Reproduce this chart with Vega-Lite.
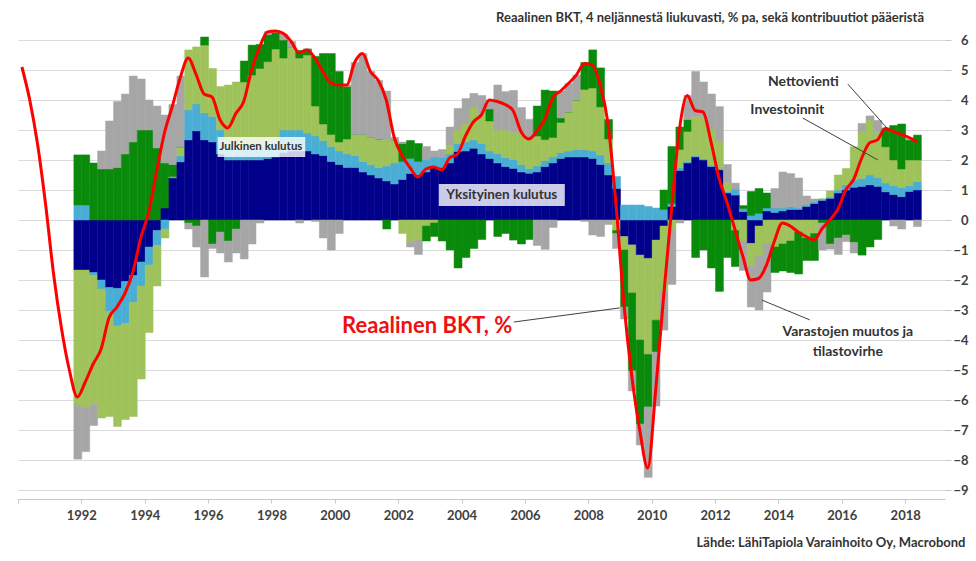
{
"$schema": "https://vega.github.io/schema/vega-lite/v6.json",
"width": 927, "height": 465,
"autosize": {"type": "none"},
"padding": {"left": 18, "top": 34, "right": 31, "bottom": 62},
"background": "white",
"title": {"text": "Reaalinen BKT, 4 neljännestä liukuvasti, % pa, sekä kontribuutiot pääeristä", "anchor": "end", "frame": "group", "dx": -21, "offset": 0, "font": "Lato", "fontSize": 13, "fontWeight": "bold", "color": "#333333"},
"config": {"view": {"stroke": null}, "axis": {"labelFont": "Lato", "labelFontSize": 13, "labelFontWeight": "bold", "labelColor": "#404040", "titleFont": "Lato"}},
"resolve": {"axis": {"x": "independent", "y": "independent"}},
"datasets": {
"series": [{"sarja": "yksit", "jarj": 1}, {"sarja": "julk", "jarj": 2}, {"sarja": "inv", "jarj": 3}, {"sarja": "netto", "jarj": 4}, {"sarja": "varastot", "jarj": 5}],
"gdp": [
{"d":"1990-01-01","bkt":5.1},
{"d":"1990-04-01","bkt":4.0},
{"d":"1990-07-01","bkt":2.5},
{"d":"1990-10-01","bkt":0.5},
{"d":"1991-01-01","bkt":-1.8},
{"d":"1991-04-01","bkt":-3.6},
{"d":"1991-07-01","bkt":-5.0},
{"d":"1991-10-01","yksit":-1.67,"julk":0.5,"inv":-4.5,"netto":1.67,"varastot":-1.8,"bkt":-5.9},
{"d":"1992-01-01","yksit":-1.67,"julk":0.5,"inv":-4.6,"netto":1.67,"varastot":-1.45,"bkt":-5.4},
{"d":"1992-04-01","yksit":-1.75,"julk":-0.1,"inv":-4.3,"netto":1.9,"varastot":-0.7,"bkt":-4.8},
{"d":"1992-07-01","yksit":-2.0,"julk":-0.3,"inv":-4.3,"netto":1.7,"varastot":0.6,"bkt":-4.3},
{"d":"1992-10-01","yksit":-2.25,"julk":-0.8,"inv":-3.5,"netto":1.7,"varastot":1.6,"bkt":-3.25},
{"d":"1993-01-01","yksit":-2.28,"julk":-1.25,"inv":-3.35,"netto":1.75,"varastot":2.2,"bkt":-2.9},
{"d":"1993-04-01","yksit":-2.05,"julk":-1.4,"inv":-3.2,"netto":2.2,"varastot":2.0,"bkt":-2.45},
{"d":"1993-07-01","yksit":-1.85,"julk":-0.9,"inv":-3.8,"netto":2.6,"varastot":2.2,"bkt":-1.75},
{"d":"1993-10-01","yksit":-1.4,"julk":-0.8,"inv":-3.1,"netto":3.0,"varastot":1.7,"bkt":-0.6},
{"d":"1994-01-01","yksit":-0.9,"julk":-0.6,"inv":-2.25,"netto":3.0,"varastot":1.0,"bkt":0.25},
{"d":"1994-04-01","yksit":-0.35,"julk":-0.5,"inv":-1.35,"netto":2.4,"varastot":1.4,"bkt":1.6},
{"d":"1994-07-01","yksit":0.4,"julk":-0.3,"inv":-0.3,"netto":1.5,"varastot":1.6,"bkt":2.9},
{"d":"1994-10-01","yksit":1.4,"julk":0.05,"inv":0.0,"netto":0.4,"varastot":2.0,"bkt":3.8},
{"d":"1995-01-01","yksit":1.94,"julk":0.2,"inv":0.3,"netto":0.0,"varastot":2.36,"bkt":4.75},
{"d":"1995-04-01","yksit":2.67,"julk":1.0,"inv":2.0,"netto":-0.1,"varastot":-0.2,"bkt":5.4},
{"d":"1995-07-01","yksit":2.97,"julk":0.9,"inv":1.9,"netto":-0.2,"varastot":-0.7,"bkt":4.85},
{"d":"1995-10-01","yksit":2.67,"julk":0.9,"inv":2.26,"netto":0.27,"varastot":-1.9,"bkt":4.2},
{"d":"1996-01-01","yksit":2.6,"julk":0.85,"inv":1.6,"netto":-0.8,"varastot":-0.15,"bkt":4.1},
{"d":"1996-04-01","yksit":2.2,"julk":0.8,"inv":1.45,"netto":-0.4,"varastot":-0.7,"bkt":3.35},
{"d":"1996-07-01","yksit":2.0,"julk":0.5,"inv":2.0,"netto":-0.7,"varastot":-0.7,"bkt":3.07},
{"d":"1996-10-01","yksit":2.0,"julk":0.4,"inv":2.2,"netto":-0.3,"varastot":-0.8,"bkt":3.55},
{"d":"1997-01-01","yksit":2.0,"julk":0.35,"inv":2.25,"netto":0.7,"varastot":-1.3,"bkt":3.95},
{"d":"1997-04-01","yksit":2.0,"julk":0.4,"inv":2.43,"netto":1.0,"varastot":-0.8,"bkt":5.0},
{"d":"1997-07-01","yksit":2.0,"julk":0.45,"inv":2.6,"netto":0.8,"varastot":-0.1,"bkt":5.75},
{"d":"1997-10-01","yksit":2.05,"julk":0.45,"inv":2.78,"netto":0.9,"varastot":0.1,"bkt":6.27},
{"d":"1998-01-01","yksit":2.1,"julk":0.5,"inv":3.1,"netto":0.55,"varastot":0.05,"bkt":6.3},
{"d":"1998-04-01","yksit":2.25,"julk":0.75,"inv":2.4,"netto":0.6,"varastot":0.2,"bkt":6.22},
{"d":"1998-07-01","yksit":2.3,"julk":0.7,"inv":2.75,"netto":0.0,"varastot":0.2,"bkt":5.95},
{"d":"1998-10-01","yksit":2.3,"julk":0.7,"inv":2.4,"netto":0.25,"varastot":-0.1,"bkt":5.57},
{"d":"1999-01-01","yksit":2.3,"julk":0.6,"inv":2.6,"netto":0.2,"varastot":0.0,"bkt":5.67},
{"d":"1999-04-01","yksit":2.2,"julk":0.6,"inv":1.0,"netto":1.65,"varastot":-0.05,"bkt":5.4},
{"d":"1999-07-01","yksit":2.15,"julk":0.5,"inv":0.55,"netto":2.35,"varastot":-0.6,"bkt":4.95},
{"d":"1999-10-01","yksit":1.95,"julk":0.5,"inv":0.4,"netto":2.7,"varastot":-1.0,"bkt":4.57},
{"d":"2000-01-01","yksit":1.85,"julk":0.45,"inv":0.3,"netto":2.35,"varastot":-0.45,"bkt":4.5},
{"d":"2000-04-01","yksit":1.75,"julk":0.45,"inv":0.5,"netto":1.75,"varastot":0.05,"bkt":4.5},
{"d":"2000-07-01","yksit":1.75,"julk":0.4,"inv":0.7,"netto":0.0,"varastot":2.4,"bkt":5.25},
{"d":"2000-10-01","yksit":1.6,"julk":0.35,"inv":0.9,"netto":0.0,"varastot":2.7,"bkt":5.55},
{"d":"2001-01-01","yksit":1.5,"julk":0.35,"inv":0.9,"netto":0.0,"varastot":2.2,"bkt":4.95},
{"d":"2001-04-01","yksit":1.4,"julk":0.35,"inv":0.95,"netto":0.0,"varastot":1.95,"bkt":4.65},
{"d":"2001-07-01","yksit":1.3,"julk":0.5,"inv":0.9,"netto":-0.3,"varastot":1.6,"bkt":4.0},
{"d":"2001-10-01","yksit":1.2,"julk":0.7,"inv":0.75,"netto":0.0,"varastot":0.1,"bkt":2.75},
{"d":"2002-01-01","yksit":1.35,"julk":0.6,"inv":-0.45,"netto":0.6,"varastot":0.05,"bkt":2.15},
{"d":"2002-04-01","yksit":1.55,"julk":0.5,"inv":-0.75,"netto":0.6,"varastot":-0.15,"bkt":1.75},
{"d":"2002-07-01","yksit":1.5,"julk":0.45,"inv":-0.65,"netto":0.6,"varastot":-0.5,"bkt":1.43},
{"d":"2002-10-01","yksit":1.6,"julk":0.4,"inv":-0.2,"netto":-0.5,"varastot":0.45,"bkt":1.7},
{"d":"2003-01-01","yksit":1.75,"julk":0.35,"inv":-0.1,"netto":-0.45,"varastot":0.2,"bkt":1.77},
{"d":"2003-04-01","yksit":1.75,"julk":0.35,"inv":0.0,"netto":-0.7,"varastot":0.25,"bkt":1.67},
{"d":"2003-07-01","yksit":1.9,"julk":0.3,"inv":0.3,"netto":-1.0,"varastot":0.6,"bkt":2.07},
{"d":"2003-10-01","yksit":2.28,"julk":0.27,"inv":0.45,"netto":-1.6,"varastot":0.72,"bkt":2.2},
{"d":"2004-01-01","yksit":2.3,"julk":0.3,"inv":0.6,"netto":-1.25,"varastot":0.85,"bkt":2.8},
{"d":"2004-04-01","yksit":2.39,"julk":0.28,"inv":1.1,"netto":-0.95,"varastot":0.45,"bkt":3.27},
{"d":"2004-07-01","yksit":2.2,"julk":0.35,"inv":1.0,"netto":-0.65,"varastot":0.6,"bkt":3.5},
{"d":"2004-10-01","yksit":2.05,"julk":0.25,"inv":1.0,"netto":0.4,"varastot":0.3,"bkt":4.0},
{"d":"2005-01-01","yksit":1.9,"julk":0.3,"inv":0.8,"netto":-0.55,"varastot":1.5,"bkt":3.95},
{"d":"2005-04-01","yksit":1.78,"julk":0.3,"inv":0.92,"netto":-0.45,"varastot":1.28,"bkt":3.85},
{"d":"2005-07-01","yksit":1.72,"julk":0.3,"inv":0.9,"netto":-0.67,"varastot":1.4,"bkt":3.65},
{"d":"2005-10-01","yksit":1.6,"julk":0.25,"inv":1.05,"netto":-0.8,"varastot":0.85,"bkt":2.95},
{"d":"2006-01-01","yksit":1.56,"julk":0.15,"inv":1.0,"netto":-0.65,"varastot":0.65,"bkt":2.7},
{"d":"2006-04-01","yksit":1.6,"julk":0.2,"inv":1.0,"netto":1.0,"varastot":-0.85,"bkt":2.95},
{"d":"2006-07-01","yksit":1.78,"julk":0.2,"inv":0.7,"netto":1.65,"varastot":-0.98,"bkt":3.35},
{"d":"2006-10-01","yksit":1.9,"julk":0.2,"inv":0.65,"netto":1.55,"varastot":-0.25,"bkt":4.07},
{"d":"2007-01-01","yksit":2.05,"julk":0.2,"inv":1.0,"netto":0.15,"varastot":0.9,"bkt":4.3},
{"d":"2007-04-01","yksit":2.1,"julk":0.2,"inv":1.3,"netto":0.0,"varastot":0.95,"bkt":4.55},
{"d":"2007-07-01","yksit":2.1,"julk":0.25,"inv":1.65,"netto":0.0,"varastot":0.83,"bkt":4.83},
{"d":"2007-10-01","yksit":2.1,"julk":0.25,"inv":2.0,"netto":0.9,"varastot":-0.05,"bkt":5.22},
{"d":"2008-01-01","yksit":2.05,"julk":0.25,"inv":2.1,"netto":1.27,"varastot":-0.5,"bkt":5.17},
{"d":"2008-04-01","yksit":1.85,"julk":0.32,"inv":1.6,"netto":1.3,"varastot":-0.55,"bkt":4.5},
{"d":"2008-07-01","yksit":1.5,"julk":0.4,"inv":0.8,"netto":0.65,"varastot":-0.15,"bkt":3.2},
{"d":"2008-10-01","yksit":1.05,"julk":0.4,"inv":-0.35,"netto":-0.1,"varastot":-0.5,"bkt":0.5},
{"d":"2009-01-01","yksit":-0.55,"julk":0.5,"inv":-0.45,"netto":-1.9,"varastot":-0.4,"bkt":-2.8},
{"d":"2009-04-01","yksit":-0.83,"julk":0.5,"inv":-1.6,"netto":-2.6,"varastot":-0.67,"bkt":-5.2},
{"d":"2009-07-01","yksit":-1.17,"julk":0.5,"inv":-2.83,"netto":-2.8,"varastot":-0.7,"bkt":-7.0},
{"d":"2009-10-01","yksit":-1.28,"julk":0.45,"inv":-3.2,"netto":-1.75,"varastot":-2.35,"bkt":-8.27},
{"d":"2010-01-01","yksit":-0.67,"julk":0.4,"inv":-2.67,"netto":-1.06,"varastot":-1.8,"bkt":-5.7},
{"d":"2010-04-01","yksit":-0.2,"julk":0.35,"inv":-2.2,"netto":0.65,"varastot":-1.27,"bkt":-2.6},
{"d":"2010-07-01","yksit":0.45,"julk":0.1,"inv":-0.3,"netto":1.9,"varastot":-1.85,"bkt":0.3},
{"d":"2010-10-01","yksit":1.65,"julk":0.1,"inv":0.6,"netto":0.75,"varastot":-0.1,"bkt":3.0},
{"d":"2011-01-01","yksit":1.9,"julk":0.05,"inv":1.0,"netto":0.4,"varastot":0.8,"bkt":4.15},
{"d":"2011-04-01","yksit":2.1,"julk":0.05,"inv":1.3,"netto":-1.25,"varastot":1.5,"bkt":3.65},
{"d":"2011-07-01","yksit":2.0,"julk":0.05,"inv":1.4,"netto":-1.0,"varastot":1.15,"bkt":3.6},
{"d":"2011-10-01","yksit":1.78,"julk":0.05,"inv":1.2,"netto":-1.6,"varastot":1.17,"bkt":2.6},
{"d":"2012-01-01","yksit":1.67,"julk":0.05,"inv":0.9,"netto":-2.38,"varastot":1.16,"bkt":1.4},
{"d":"2012-04-01","yksit":0.9,"julk":0.05,"inv":0.3,"netto":-1.25,"varastot":0.6,"bkt":0.6},
{"d":"2012-07-01","yksit":0.83,"julk":0.2,"inv":-0.35,"netto":-1.2,"varastot":0.2,"bkt":-0.3},
{"d":"2012-10-01","yksit":0.28,"julk":0.1,"inv":-0.7,"netto":0.1,"varastot":-0.98,"bkt":-1.2},
{"d":"2013-01-01","yksit":-0.78,"julk":0.15,"inv":-0.75,"netto":0.8,"varastot":-1.37,"bkt":-2.0},
{"d":"2013-04-01","yksit":-0.2,"julk":0.22,"inv":-1.0,"netto":0.83,"varastot":-1.8,"bkt":-1.95},
{"d":"2013-07-01","yksit":0.3,"julk":0.1,"inv":-0.8,"netto":0.5,"varastot":-1.6,"bkt":-1.5},
{"d":"2013-10-01","yksit":0.25,"julk":0.15,"inv":-0.9,"netto":-0.85,"varastot":0.65,"bkt":-0.7},
{"d":"2014-01-01","yksit":0.3,"julk":0.1,"inv":-0.8,"netto":-0.9,"varastot":1.2,"bkt":-0.1},
{"d":"2014-04-01","yksit":0.35,"julk":0.1,"inv":-0.7,"netto":-1.05,"varastot":1.1,"bkt":-0.2},
{"d":"2014-07-01","yksit":0.35,"julk":0.05,"inv":-0.4,"netto":-1.4,"varastot":1.0,"bkt":-0.4},
{"d":"2014-10-01","yksit":0.45,"julk":0.05,"inv":-0.6,"netto":-0.75,"varastot":0.3,"bkt":-0.55},
{"d":"2015-01-01","yksit":0.55,"julk":0.05,"inv":-0.45,"netto":-0.9,"varastot":0.1,"bkt":-0.67},
{"d":"2015-04-01","yksit":0.65,"julk":0.05,"inv":0.0,"netto":-0.1,"varastot":-0.9,"bkt":-0.3},
{"d":"2015-07-01","yksit":0.72,"julk":0.05,"inv":0.2,"netto":-0.8,"varastot":-0.17,"bkt":0.0},
{"d":"2015-10-01","yksit":0.9,"julk":0.1,"inv":0.5,"netto":-0.6,"varastot":-0.55,"bkt":0.35},
{"d":"2016-01-01","yksit":1.0,"julk":0.17,"inv":0.55,"netto":-0.5,"varastot":-0.22,"bkt":1.0},
{"d":"2016-04-01","yksit":1.09,"julk":0.24,"inv":1.11,"netto":-0.75,"varastot":-0.35,"bkt":1.35},
{"d":"2016-07-01","yksit":1.12,"julk":0.26,"inv":1.56,"netto":-1.17,"varastot":0.28,"bkt":2.05},
{"d":"2016-10-01","yksit":1.17,"julk":0.33,"inv":1.83,"netto":-0.9,"varastot":0.14,"bkt":2.57},
{"d":"2017-01-01","yksit":1.12,"julk":0.3,"inv":1.5,"netto":-0.65,"varastot":0.4,"bkt":2.67},
{"d":"2017-04-01","yksit":0.94,"julk":0.3,"inv":1.2,"netto":0.62,"varastot":0.0,"bkt":3.05},
{"d":"2017-07-01","yksit":0.85,"julk":0.3,"inv":0.85,"netto":1.15,"varastot":-0.2,"bkt":2.95},
{"d":"2017-10-01","yksit":0.78,"julk":0.3,"inv":0.62,"netto":1.5,"varastot":-0.3,"bkt":2.85},
{"d":"2018-01-01","yksit":0.95,"julk":0.2,"inv":0.85,"netto":0.67,"varastot":0.08,"bkt":2.75},
{"d":"2018-04-01","yksit":1.0,"julk":0.28,"inv":0.72,"netto":0.83,"varastot":-0.22,"bkt":2.6}
],
"boxes": [
{"label": "Julkinen kulutus", "d": "1996-04-20", "d2": "1999-01-25", "v": 2.77, "v2": 2.1},
{"label": "Yksityinen kulutus", "d": "2003-04-14", "d2": "2007-04-05", "v": 1.2, "v2": 0.47}
],
"notes": [
{"label": "Julkinen kulutus", "d": "1997-09-02", "v": 2.43},
{"label": "Yksityinen kulutus", "d": "2005-04-09", "v": 0.83},
{"label": "Reaalinen BKT, %", "d": "2002-12-01", "v": -3.52},
{"label": "Nettovienti", "d": "2014-10-16", "v": 4.6},
{"label": "Investoinnit", "d": "2014-04-13", "v": 3.67},
{"label": "Varastojen muutos ja", "d": "2016-03-11", "v": -3.73},
{"label": "tilastovirhe", "d": "2016-03-11", "v": -4.4}
],
"leaders": [
{"d": "2005-08-26", "d2": "2008-12-30", "v": -3.4, "v2": -2.93},
{"d": "2016-03-11", "d2": "2017-06-03", "v": 4.53, "v2": 3.07},
{"d": "2014-10-08", "d2": "2017-02-21", "v": 3.4, "v2": 2.0},
{"d": "2014-12-28", "d2": "2013-06-25", "v": -3.33, "v2": -2.67}
]
},
"layer": [
{
"data": {"name": "gdp"},
"transform": [
{"fold": ["yksit", "julk", "inv", "netto", "varastot"], "as": ["sarja", "arvo"]},
{"filter": "isValid(datum.arvo)"},
{"lookup": "sarja", "from": {"data": {"name": "series"}, "key": "sarja", "fields": ["jarj"]}}
],
"mark": {"type": "bar", "timeUnitBandSize": 1, "binSpacing": 0, "strokeWidth": 0.5},
"encoding": {
"x": {"field": "d", "type": "temporal", "timeUnit": "utcyearquarter",
 "scale": {"type": "utc", "domain": [{"year": 1990, "month": 1, "date": 1, "utc": true}, {"year": 2019, "month": 4, "date": 5, "utc": true}]},
 "axis": {"values": [{"year":1990,"utc":true},{"year":1992,"utc":true},{"year":1994,"utc":true},{"year":1996,"utc":true},{"year":1998,"utc":true},{"year":2000,"utc":true},{"year":2002,"utc":true},{"year":2004,"utc":true},{"year":2006,"utc":true},{"year":2008,"utc":true},{"year":2010,"utc":true},{"year":2012,"utc":true},{"year":2014,"utc":true},{"year":2016,"utc":true},{"year":2018,"utc":true}],
  "labelExpr": "utcFormat(datum.value, '%Y') == '1990' ? '' : utcFormat(datum.value, '%Y')",
  "grid": false, "domainColor": "#c8c8c8", "tickColor": "#c8c8c8", "tickSize": 4, "labelPadding": 6, "labelFlush": false, "labelOverlap": false,
  "title": "Lähde: LähiTapiola Varainhoito Oy, Macrobond", "titleFont": "Lato", "titleFontSize": 13, "titleFontWeight": "bold", "titleColor": "#333333", "titleAnchor": "end", "titleAlign": "right", "titleX": 947, "titleY": 43, "titleBaseline": "middle"}},
"y": {"field": "arvo", "type": "quantitative", "stack": "zero",
 "scale": {"domain": [-9.3, 6.2], "nice": false, "zero": false},
 "axis": {"orient": "right", "values": [-9,-8,-7,-6,-5,-4,-3,-2,-1,0,1,2,3,4,5,6], "grid": true, "gridColor": "#dadada", "domain": false, "tickColor": "#c8c8c8", "tickSize": 6, "labelAlign": "right", "labelPadding": 17, "title": null, "zindex": 0}},
"color": {"field": "sarja", "type": "nominal", "scale": {"domain": ["yksit", "julk", "inv", "netto", "varastot"], "range": ["#00008b", "#4aaed4", "#9fc25a", "#0a8a0a", "#a6a6a6"]}, "legend": null},
"stroke": {"field": "sarja", "type": "nominal", "scale": {"domain": ["yksit", "julk", "inv", "netto", "varastot"], "range": ["#00008b", "#4aaed4", "#9fc25a", "#0a8a0a", "#a6a6a6"]}, "legend": null},
"order": {"field": "jarj", "type": "quantitative", "sort": "ascending"}
}
},
{
"data": {"name": "gdp"},
"mark": {"type": "line", "color": "#ff0000", "strokeWidth": 3, "interpolate": "monotone"},
"encoding": {
"x": {"field": "d", "type": "temporal", "timeUnit": "utcyearquarter", "bandPosition": 0.5, "scale": {"type": "utc"}, "axis": null},
"y": {"field": "bkt", "type": "quantitative", "axis": null}
}
},
{
"data": {"name": "boxes"},
"mark": {"type": "rect", "fill": "white", "opacity": 0.8},
"encoding": {
"x": {"field": "d", "type": "temporal", "scale": {"type": "utc"}, "axis": null},
"x2": {"field": "d2"},
"y": {"field": "v", "type": "quantitative", "axis": null},
"y2": {"field": "v2"}
}
},
{
"data": {"name": "leaders"},
"mark": {"type": "rule", "color": "#404040", "strokeWidth": 1},
"encoding": {
"x": {"field": "d", "type": "temporal", "scale": {"type": "utc"}, "axis": null},
"x2": {"field": "d2"},
"y": {"field": "v", "type": "quantitative", "axis": null},
"y2": {"field": "v2"}
}
},
{
"data": {"name": "notes"},
"transform": [{"filter": {"field": "label", "oneOf": ["Nettovienti", "Investoinnit", "Varastojen muutos ja", "tilastovirhe"]}}],
"mark": {"type": "text", "font": "Lato", "fontSize": 14, "fontWeight": "bold", "color": "#333333", "align": "center", "baseline": "middle"},
"encoding": {
"x": {"field": "d", "type": "temporal", "scale": {"type": "utc"}, "axis": null},
"y": {"field": "v", "type": "quantitative", "axis": null},
"text": {"field": "label"}
}
},
{
"data": {"name": "notes"},
"transform": [{"filter": {"field": "label", "equal": "Julkinen kulutus"}}],
"mark": {"type": "text", "font": "Lato", "fontSize": 11.5, "fontWeight": "bold", "color": "#333333", "align": "center", "baseline": "middle"},
"encoding": {
"x": {"field": "d", "type": "temporal", "scale": {"type": "utc"}, "axis": null},
"y": {"field": "v", "type": "quantitative", "axis": null},
"text": {"field": "label"}
}
},
{
"data": {"name": "notes"},
"transform": [{"filter": {"field": "label", "equal": "Yksityinen kulutus"}}],
"mark": {"type": "text", "font": "Lato", "fontSize": 13.5, "fontWeight": "bold", "color": "#333333", "align": "center", "baseline": "middle"},
"encoding": {
"x": {"field": "d", "type": "temporal", "scale": {"type": "utc"}, "axis": null},
"y": {"field": "v", "type": "quantitative", "axis": null},
"text": {"field": "label"}
}
},
{
"data": {"name": "notes"},
"transform": [{"filter": {"field": "label", "equal": "Reaalinen BKT, %"}}],
"mark": {"type": "text", "font": "Lato", "fontSize": 22, "fontWeight": "bold", "color": "#ee1111", "align": "center", "baseline": "middle"},
"encoding": {
"x": {"field": "d", "type": "temporal", "scale": {"type": "utc"}, "axis": null},
"y": {"field": "v", "type": "quantitative", "axis": null},
"text": {"field": "label"}
}
}
]
}
